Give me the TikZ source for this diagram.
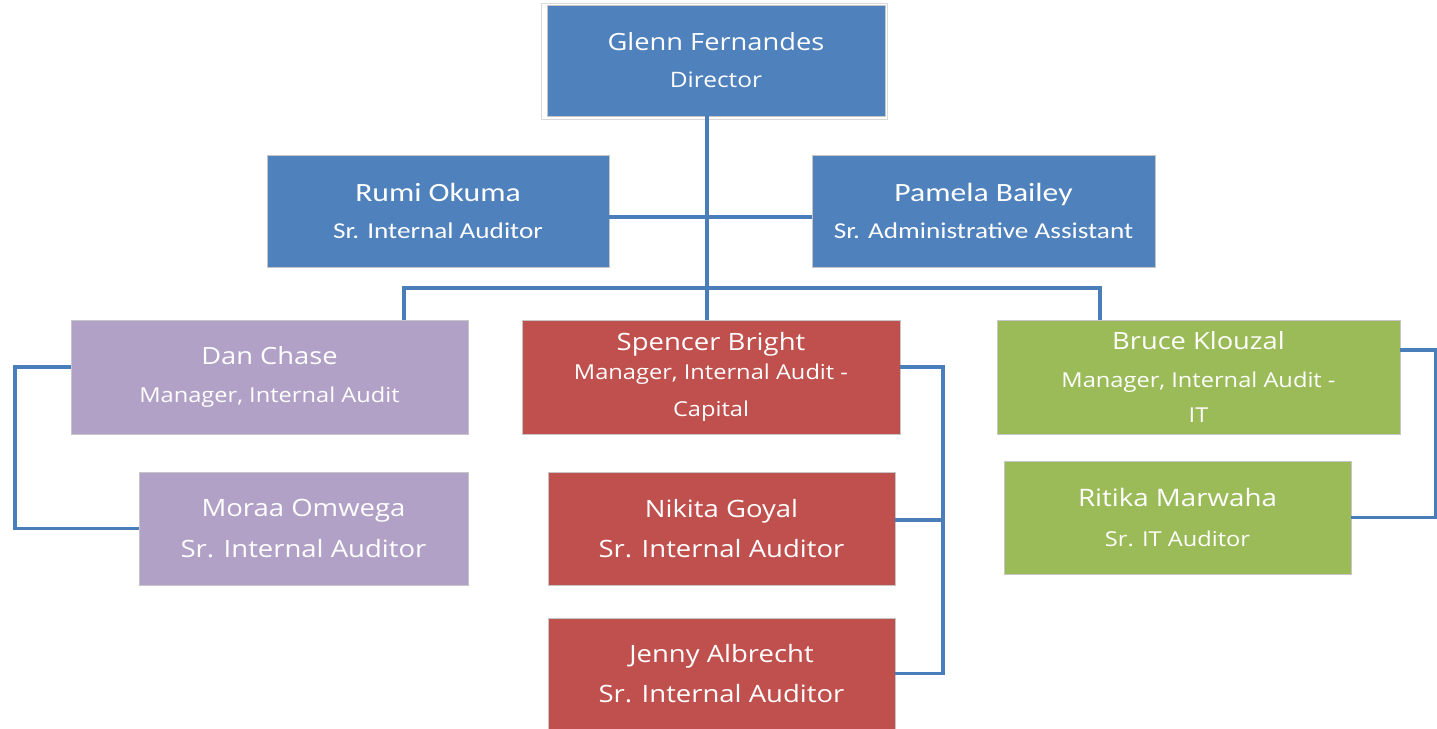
\documentclass[tikz,border=0pt]{standalone}
\usepackage{fontspec}
\setmainfont[FakeStretch=1.15]{Open Sans}
\newfontfamily\calibrifont[FakeStretch=1.2]{Carlito}
\usetikzlibrary{calc}
\definecolor{chartblue}{HTML}{4F81BD}
\definecolor{chartred}{HTML}{C0504D}
\definecolor{chartgreen}{HTML}{9BBB59}
\definecolor{chartpurple}{HTML}{B2A1C7}
\definecolor{linkblue}{HTML}{4A7EBB}

\begin{document}
\begin{tikzpicture}[x=0.02cm,y=-0.02cm,
    box/.style={fill=#1,draw=gray!45,line width=0.3pt,text=white,align=center,
      inner sep=0pt,outer sep=0pt,font=\fontsize{11.7}{21}\selectfont},
    link/.style={draw=linkblue,line width=1.9pt}]
    \useasboundingbox (0,0) rectangle (1437,729);
    % director and staff
    \node[box=chartblue,minimum width=6.76cm,minimum height=2.22cm,font=\fontsize{12.1}{21}\selectfont] (glenn) at (716,60.5)
      {{\fontsize{13.5}{21}\selectfont Glenn Fernandes}\\Director};
    \draw[gray!30] ($(glenn.north west)+(-6,-2)$) rectangle ($(glenn.south east)+(2,3)$);
    \node[box=chartblue,minimum width=6.84cm,minimum height=2.24cm,font=\calibrifont\fontsize{12.9}{21}\selectfont] (rumi) at (438,211)
      {{\fontsize{15}{21}\selectfont Rumi Okuma}\\Sr. Internal Auditor};
    \node[box=chartblue,minimum width=6.86cm,minimum height=2.24cm,font=\calibrifont\fontsize{12.9}{21}\selectfont] (pamela) at (983.5,211)
      {{\fontsize{15}{21}\selectfont Pamela Bailey}\\Sr. Administrative Assistant};
    % managers
    \node[box=chartpurple,minimum width=7.94cm,minimum height=2.28cm] (dan) at (269.5,377)
      {{\fontsize{13.5}{21}\selectfont Dan Chase}\\[0.6pt]Manager, Internal Audit};
    \node[box=chartred,minimum width=7.56cm,minimum height=2.28cm] (spencer) at (711,377)
      {{\fontsize{13.6}{21}\selectfont Spencer Bright}\\[-4.5pt]Manager, Internal Audit -\\Capital};
    \node[box=chartgreen,minimum width=8.06cm,minimum height=2.28cm] (bruce) at (1198.5,377)
      {{\fontsize{13.5}{21}\selectfont Bruce Klouzal}\\[0.6pt]Manager, Internal Audit -\\[-1pt]IT};
    % auditors
    \node[box=chartpurple,minimum width=6.58cm,minimum height=2.26cm,font=\fontsize{13.6}{21}\selectfont] (moraa) at (303.5,528.5)
      {Moraa Omwega\\[1.8pt]Sr. Internal Auditor};
    \node[box=chartred,minimum width=6.94cm,minimum height=2.26cm,font=\fontsize{13.6}{21}\selectfont] (nikita) at (721.5,528.5)
      {Nikita Goyal\\[1.8pt]Sr. Internal Auditor};
    \node[box=chartred,minimum width=6.94cm,minimum height=2.22cm,font=\fontsize{13.6}{21}\selectfont] (jenny) at (721.5,673.5)
      {Jenny Albrecht\\[1.8pt]Sr. Internal Auditor};
    \node[box=chartgreen,minimum width=6.94cm,minimum height=2.26cm] (ritika) at (1177.5,517.5)
      {{\fontsize{13.7}{21}\selectfont Ritika Marwaha}\\[2.3pt]Sr. IT Auditor};
    % connectors
    \coordinate (trunk) at (707,0);
    \coordinate (leftdrop) at (404,288);
    \coordinate (rightdrop) at (1100,288);
    \coordinate (danrail) at (15,0);
    \coordinate (caprail) at (943,0);
    \coordinate (itrail) at (1436,0);
    \draw[link] (glenn.south -| trunk) -- (spencer.north -| trunk);
    \draw[link] ([yshift=-0.12cm]rumi.east) -- ([yshift=-0.12cm]pamela.west);
    \draw[link] (dan.north -| leftdrop) -- (leftdrop) -- (rightdrop) -- (bruce.north -| rightdrop);
    \draw[link] ([yshift=0.2cm]dan.west) -| (moraa.west -| danrail) -- (moraa.west);
    \draw[link] ([yshift=0.2cm]spencer.east) -| (jenny.east -| caprail) -- (jenny.east);
    \draw[link] ([yshift=0.17cm]nikita.east) -- ([yshift=0.17cm]nikita.east -| caprail);
    \draw[link] ([yshift=0.54cm]bruce.east) -| (ritika.east -| itrail) -- (ritika.east);
  \end{tikzpicture}
\end{document}
